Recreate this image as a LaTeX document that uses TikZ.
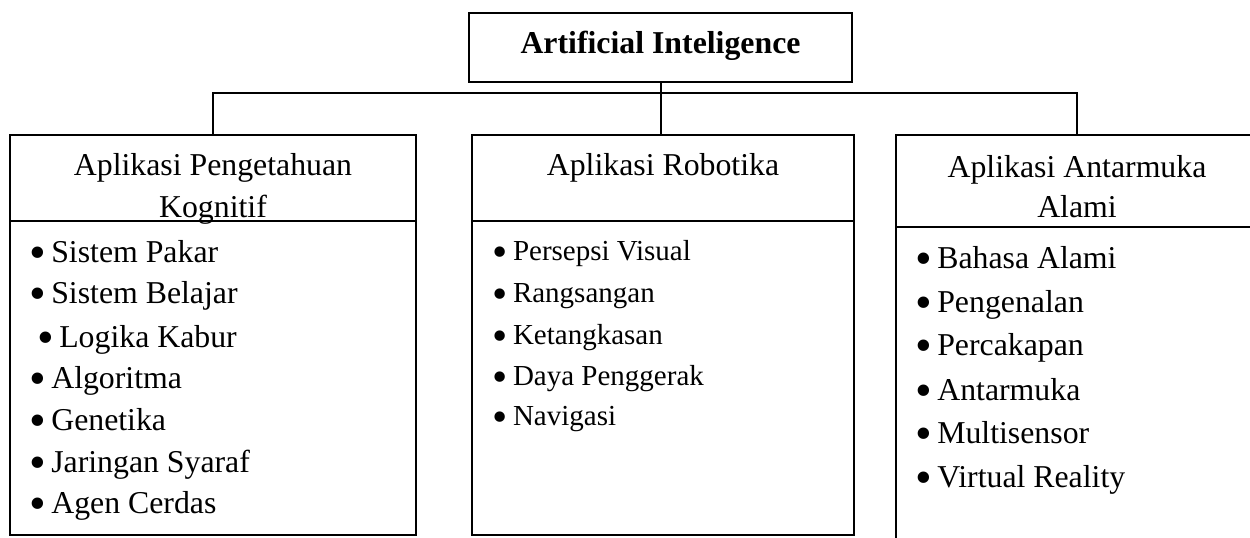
\documentclass[tikz,border=0pt]{standalone}
\usepackage{graphicx}
\usepackage{fontspec}
\setmainfont{Liberation Serif}
\newcommand{\bigbul}{\smash{\raisebox{-3pt}{\scalebox{1.5}{•}}}}
\begin{document}
\begin{tikzpicture}[x=0.5pt,y=-0.5pt,
  box/.style={draw,line width=1pt,inner sep=0pt,rectangle},
  conn/.style={draw,line width=1pt},
  lbl/.style={anchor=base,inner sep=0pt,font=\fontsize{15.9}{19}\selectfont},
  item/.style={anchor=base west,inner sep=0pt,font=\fontsize{15.9}{19}\selectfont},
  itemS/.style={anchor=base west,inner sep=0pt,font=\fontsize{14.5}{17}\selectfont}]
\useasboundingbox (0,0) rectangle (1250,537);
% boxes
\node[box,minimum width=191.5pt,minimum height=34.5pt] (ai) at (660.5,47.5) {};
\node[box,minimum width=203pt,minimum height=43pt] (kog) at (213,178) {};
\node[box,minimum width=203pt,minimum height=157pt] (kogL) at (213,378) {};
\node[box,minimum width=191pt,minimum height=43pt] (rob) at (663,178) {};
\node[box,minimum width=191pt,minimum height=157pt] (robL) at (663,378) {};
\node[box,minimum width=181pt,minimum height=46pt] (ant) at (1077,181) {};
\node[box,minimum width=181pt,minimum height=171.5pt] (antL) at (1077,398.5) {};
% connectors
\coordinate (bus) at (660.5,93);
\draw[conn] (kog.north) |- (bus) -| (ant.north);
\draw[conn] (ai.south) -- (ai.south |- rob.north);
% titles
\node[lbl,font=\fontsize{15.9}{19}\selectfont\bfseries] (ait) at (660.5,53) {Artificial Inteligence};
\node[lbl] (kogt1) at (213,175) {Aplikasi Pengetahuan};
\node[lbl] (kogt2) at (213,217) {Kognitif};
\node[lbl] (robt) at (663,175) {Aplikasi Robotika};
\node[lbl] (antt1) at (1077,177) {Aplikasi Antarmuka};
\node[lbl] (antt2) at (1077,217) {Alami};
% left list
\node[item] (k1) at (29,262) {\bigbul\hspace{2.6pt}Sistem Pakar};
\node[item] (k2) at (29,303) {\bigbul\hspace{2.6pt}Sistem Belajar};
\node[item] (k3) at (37,347) {\bigbul\hspace{2.6pt}Logika Kabur};
\node[item] (k4) at (29,388) {\bigbul\hspace{2.6pt}Algoritma};
\node[item] (k5) at (29,430) {\bigbul\hspace{2.6pt}Genetika};
\node[item] (k6) at (29,472) {\bigbul\hspace{2.6pt}Jaringan Syaraf};
\node[item] (k7) at (29,513) {\bigbul\hspace{2.6pt}Agen Cerdas};
% middle list
\node[itemS] (r1) at (492.5,260) {\bigbul\hspace{2.45pt}Persepsi Visual};
\node[itemS] (r2) at (492.5,302) {\bigbul\hspace{2.45pt}Rangsangan};
\node[itemS] (r3) at (492.5,344) {\bigbul\hspace{2.45pt}Ketangkasan};
\node[itemS] (r4) at (492.5,385) {\bigbul\hspace{2.45pt}Daya Penggerak};
\node[itemS] (r5) at (492.5,425) {\bigbul\hspace{2.45pt}Navigasi};
% right list
\node[item] (a1) at (915,268) {\bigbul\hspace{2.6pt}Bahasa Alami};
\node[item] (a2) at (915,312) {\bigbul\hspace{2.6pt}Pengenalan};
\node[item] (a3) at (915,355) {\bigbul\hspace{2.6pt}Percakapan};
\node[item] (a4) at (915,400) {\bigbul\hspace{2.6pt}Antarmuka};
\node[item] (a5) at (915,443) {\bigbul\hspace{2.6pt}Multisensor};
\node[item] (a6) at (915,487) {\bigbul\hspace{2.6pt}Virtual Reality};
\end{tikzpicture}
\end{document}
